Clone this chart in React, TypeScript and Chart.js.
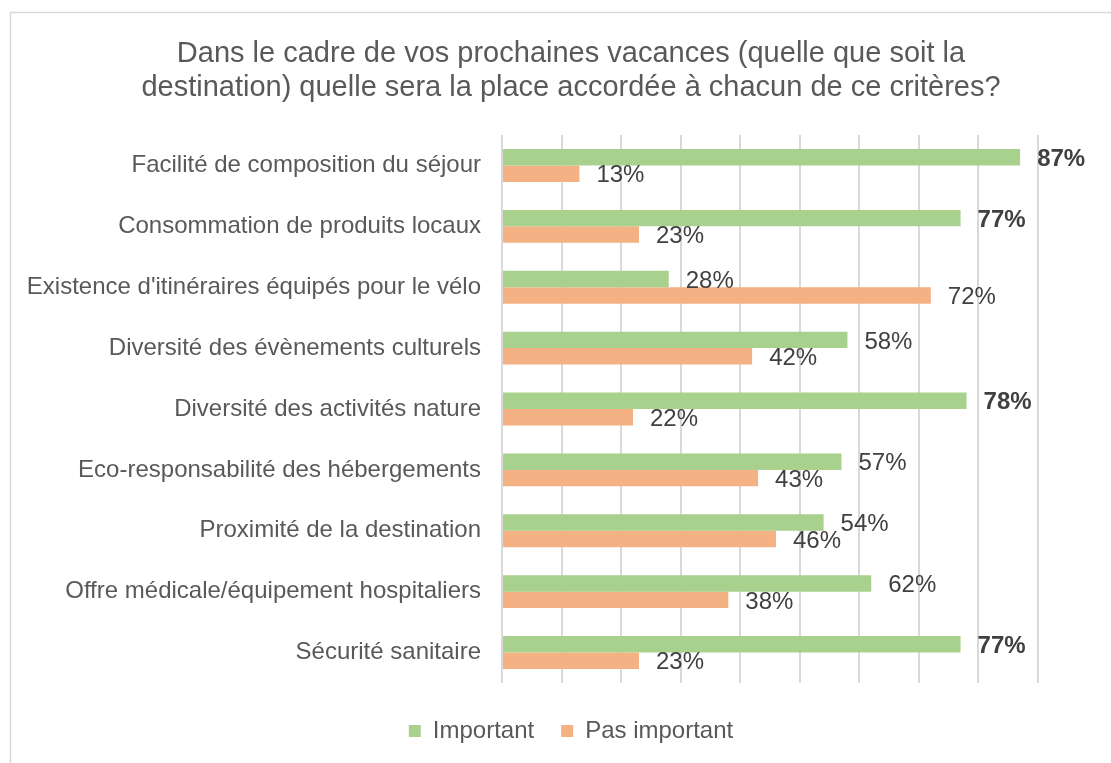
import React, { useEffect, useRef } from "react";
import { Chart, registerables } from "chart.js";

Chart.register(...registerables);

const categories = [
  "Facilité de composition du séjour",
  "Consommation de produits locaux",
  "Existence d'itinéraires équipés pour le vélo",
  "Diversité des évènements culturels",
  "Diversité des activités nature",
  "Eco-responsabilité des hébergements",
  "Proximité de la destination",
  "Offre médicale/équipement hospitaliers",
  "Sécurité sanitaire",
];
const important = [87, 77, 28, 58, 78, 57, 54, 62, 77];
const pasImportant = [13, 23, 72, 42, 22, 43, 46, 38, 23];
const seriesNames = ["Important", "Pas important"];
const titleLines = [
  "Dans le cadre de vos prochaines vacances (quelle que soit la",
  "destination) quelle sera la place accordée à chacun de ce critères?",
];
const boldThreshold = 75;

const FONT = "'Liberation Sans', Arial, sans-serif";

const labelPlugin = {
  id: "barLabels",
  afterDatasetsDraw(chart: any) {
    const ctx = chart.ctx;
    ctx.save();
    chart.data.datasets.forEach((ds: any, di: number) => {
      const meta = chart.getDatasetMeta(di);
      meta.data.forEach((bar: any, i: number) => {
        const v = ds.data[i];
        const bold = di === 0 && v >= boldThreshold;
        ctx.font = `${bold ? "bold " : ""}24px ${FONT}`;
        ctx.fillStyle = "#404040";
        ctx.textAlign = "left";
        ctx.textBaseline = "middle";
        ctx.fillText(`${v}%`, bar.x + 17, bar.y + 2);
      });
    });
    ctx.restore();
  },
};

const framePlugin = {
  id: "frame",
  beforeDraw(chart: any) {
    const ctx = chart.ctx;
    ctx.save();
    ctx.fillStyle = "#ffffff";
    ctx.fillRect(0, 0, chart.width, chart.height);
    ctx.strokeStyle = "#d9d9d9";
    ctx.lineWidth = 1.5;
    ctx.strokeRect(10.5, 12.5, 1300, 900);
    ctx.restore();
  },
};

export default function App() {
  const ref = useRef<HTMLCanvasElement | null>(null);

  useEffect(() => {
    if (!ref.current) return;
    const chart = new Chart(ref.current, {
      type: "bar",
      data: {
        labels: categories,
        datasets: [
          {
            label: seriesNames[0],
            data: important,
            backgroundColor: "#a9d18e",
            barPercentage: 1,
            categoryPercentage: 0.54,
          },
          {
            label: seriesNames[1],
            data: pasImportant,
            backgroundColor: "#f4b183",
            barPercentage: 1,
            categoryPercentage: 0.54,
          },
        ],
      },
      options: {
        indexAxis: "y",
        animation: false,
        responsive: false,
        devicePixelRatio: 1,
        layout: { padding: { left: 10, right: 0, top: 0, bottom: 10 } },
        scales: {
          x: {
            min: 0,
            max: 90,
            ticks: { display: false, stepSize: 10 },
            grid: { color: "#d9d9d9", lineWidth: 2, drawTicks: false },
            border: { display: false },
            afterFit: (s: any) => {
              s.height = 9;
            },
          },
          y: {
            ticks: {
              padding: 21,
              color: "#595959",
              font: { family: FONT, size: 24 },
            },
            grid: { display: false, drawTicks: false },
            border: { display: false },
            afterFit: (s: any) => {
              s.width = 492;
            },
          },
          yRight: {
            type: "linear",
            position: "right",
            display: true,
            ticks: { display: false },
            grid: { display: false, drawTicks: false },
            border: { display: false },
            afterFit: (s: any) => {
              s.width = 94;
            },
          },
        },
        plugins: {
          title: {
            display: true,
            text: titleLines,
            color: "#595959",
            font: { family: FONT, size: 29, weight: "normal", lineHeight: 34 / 29 },
            padding: { top: 37, bottom: 30 },
          },
          legend: {
            position: "bottom",
            labels: {
              boxWidth: 12,
              boxHeight: 12,
              padding: 27,
              color: "#595959",
              font: { family: FONT, size: 24 },
            },
          },
          tooltip: { enabled: false },
        },
      },
      plugins: [framePlugin, labelPlugin],
    } as any);
    return () => chart.destroy();
  }, []);

  return (
    <div
      style={{
        position: "absolute",
        left: 0,
        top: 0,
        width: 1111,
        height: 763,
        overflow: "hidden",
        background: "#fff",
      }}
    >
      <canvas ref={ref} width={1132} height={763} style={{ display: "block" }} />
    </div>
  );
}
